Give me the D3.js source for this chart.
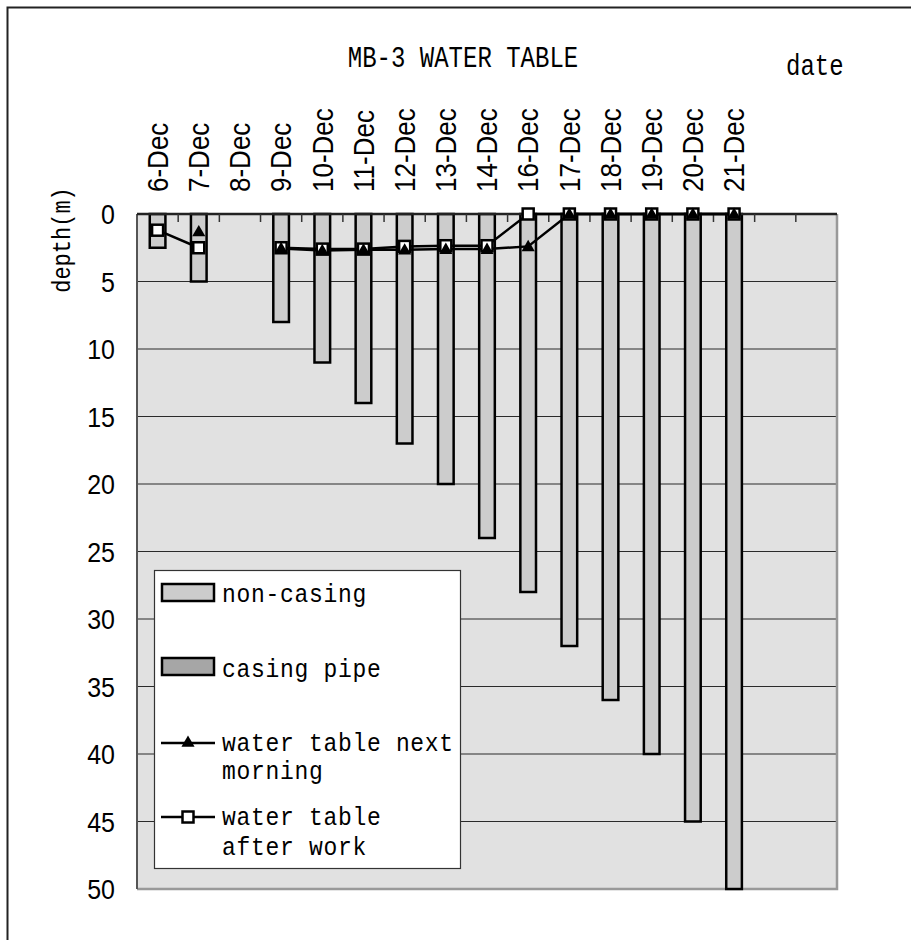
<!DOCTYPE html>
<html>
<head>
<meta charset="utf-8">
<script src="https://d3js.org/d3.v7.min.js"></script>
<style>
    body { margin: 0; background: #fff; }
    .mono { font-family: "Liberation Mono", "DejaVu Sans Mono", monospace; }
    .sans { font-family: "Liberation Sans", Arial, sans-serif; }
</style>
</head>
<body>
<div id="chart"></div>
<script>
// Dates on the x axis (two empty slots follow at the right end).
let dates = ["6-Dec", "7-Dec", "8-Dec", "9-Dec", "10-Dec", "11-Dec", "12-Dec",
    "13-Dec", "14-Dec", "16-Dec", "17-Dec", "18-Dec", "19-Dec", "20-Dec", "21-Dec"];
let slotCount = dates.length + 2;

// Depth of the hole without casing (m).
let nonCasing = [2.5, 5, null, 8, 11, 14, 17, 20, 24, 28, 32, 36, 40, 45, 50];
// Casing pipe depth (m).
let casing = [0, 0, null, 0, 0, 0, 0, 0, 0, 0, 0, 0, 0, 0, 0];
// Water table next morning (m).
let morning = [null, 1.3, null, 2.55, 2.7, 2.65, 2.65, 2.6, 2.6, 2.4, 0, 0, 0, 0, 0];
// Water table after work (m).
let afterWork = [1.2, 2.5, null, 2.5, 2.6, 2.6, 2.4, 2.35, 2.35, 0, 0, 0, 0, 0, 0];

let yTicks = [0, 5, 10, 15, 20, 25, 30, 35, 40, 45, 50];

let width = 911,
    height = 940,
    plot = { left: 137, top: 214, right: 837, bottom: 889 };

let svg = d3.select("#chart").append("svg")
    .attr("width", width)
    .attr("height", height);

// Outer chart border.
svg.append("rect")
    .attr("x", 7.5).attr("y", 7.5)
    .attr("width", 1000).attr("height", 1000)
    .attr("fill", "#fff")
    .attr("stroke", "#222")
    .attr("stroke-width", 2);

// Scales.
let x = d3.scaleBand()
    .domain(d3.range(slotCount))
    .range([plot.left, plot.right]);

let y = d3.scaleLinear()
    .domain([0, 50])
    .range([plot.top, plot.bottom]);

// Plot area background.
svg.append("rect")
    .attr("x", plot.left).attr("y", plot.top)
    .attr("width", plot.right - plot.left)
    .attr("height", plot.bottom - plot.top)
    .attr("fill", "#e1e1e1");

// Horizontal grid lines.
svg.append("g")
    .selectAll("line")
    .data(yTicks.slice(1, -1))
    .enter().append("line")
    .attr("x1", plot.left).attr("x2", plot.right)
    .attr("y1", d => y(d)).attr("y2", d => y(d))
    .attr("stroke", "#2a2a2a")
    .attr("stroke-width", 1.2);

// Right and bottom borders in grey, left border darker.
svg.append("path")
    .attr("d", "M" + plot.right + "," + plot.top + "V" + plot.bottom + "H" + plot.left)
    .attr("fill", "none")
    .attr("stroke", "#999")
    .attr("stroke-width", 2.5);
svg.append("line")
    .attr("x1", plot.left).attr("x2", plot.left)
    .attr("y1", plot.top).attr("y2", plot.bottom)
    .attr("stroke", "#555")
    .attr("stroke-width", 2);

// Y axis labels (slightly tall, like the original).
svg.append("g")
    .selectAll("text")
    .data(yTicks)
    .enter().append("text")
    .attr("class", "sans")
    .attr("transform", d => "translate(115," + y(d) + ") scale(1,1.12)")
    .attr("dy", "0.36em")
    .attr("text-anchor", "end")
    .style("font-size", "25px")
    .text(d => d);

// Y axis title.
svg.append("text")
    .attr("class", "mono")
    .attr("transform", "translate(70,240) rotate(-90) scale(1,1.2)")
    .attr("text-anchor", "middle")
    .style("font-size", "22px")
    .text("depth(m)");

// X axis (top) with tick labels rotated.
svg.append("g")
    .selectAll("text")
    .data(dates)
    .enter().append("text")
    .attr("class", "sans")
    .attr("transform", (d, i) => "translate(" + (x(i) + x.bandwidth() / 2) + ",192) rotate(-90) scale(1,1.1)")
    .attr("dy", "0.36em")
    .attr("text-anchor", "start")
    .style("font-size", "26px")
    .text(d => d);

// Non-casing bars.
let barWidth = x.bandwidth() * 0.38;
svg.append("g")
    .selectAll("rect")
    .data(nonCasing.map((v, i) => ({ i: i, v: v })).filter(d => d.v != null))
    .enter().append("rect")
    .attr("x", d => x(d.i) + (x.bandwidth() - barWidth) / 2)
    .attr("y", y(0))
    .attr("width", barWidth)
    .attr("height", d => y(d.v) - y(0))
    .attr("fill", "#cccccc")
    .attr("stroke", "#000")
    .attr("stroke-width", 2.5);

// Casing pipe bars (all zero here).
svg.append("g")
    .selectAll("rect")
    .data(casing.map((v, i) => ({ i: i, v: v })).filter(d => d.v))
    .enter().append("rect")
    .attr("x", d => x(d.i) + (x.bandwidth() - barWidth) / 2)
    .attr("y", y(0))
    .attr("width", barWidth)
    .attr("height", d => y(d.v) - y(0))
    .attr("fill", "#a6a6a6")
    .attr("stroke", "#000")
    .attr("stroke-width", 2.5);

// Top axis line with ticks pointing down.
svg.append("line")
    .attr("x1", plot.left).attr("x2", plot.right)
    .attr("y1", plot.top).attr("y2", plot.top)
    .attr("stroke", "#222")
    .attr("stroke-width", 2.5);
svg.append("g")
    .selectAll("line")
    .data(d3.range(1, slotCount))
    .enter().append("line")
    .attr("x1", d => x(d)).attr("x2", d => x(d))
    .attr("y1", plot.top).attr("y2", plot.top + 8)
    .attr("stroke", "#333")
    .attr("stroke-width", 1.5);

let line = d3.line()
    .defined(d => d.v != null)
    .x(d => x(d.i) + x.bandwidth() / 2)
    .y(d => y(d.v));

let tri = d3.symbol().type(d3.symbolTriangle).size(75);

// Water table after work: line + white squares.
let afterData = afterWork.map((v, i) => ({ i: i, v: v }));
svg.append("path")
    .datum(afterData)
    .attr("d", line)
    .attr("fill", "none")
    .attr("stroke", "#000")
    .attr("stroke-width", 2.5);

// Water table next morning: line + black triangles.
let morningData = morning.map((v, i) => ({ i: i, v: v }));
svg.append("path")
    .datum(morningData)
    .attr("d", line)
    .attr("fill", "none")
    .attr("stroke", "#000")
    .attr("stroke-width", 2.5);

svg.append("g")
    .selectAll("rect")
    .data(afterData.filter(d => d.v != null))
    .enter().append("rect")
    .attr("x", d => x(d.i) + x.bandwidth() / 2 - 5.5)
    .attr("y", d => y(d.v) - 5.5)
    .attr("width", 11).attr("height", 11)
    .attr("fill", "#fff")
    .attr("stroke", "#000")
    .attr("stroke-width", 2.5);

svg.append("g")
    .selectAll("path")
    .data(morningData.filter(d => d.v != null))
    .enter().append("path")
    .attr("d", tri)
    .attr("transform", d => "translate(" + (x(d.i) + x.bandwidth() / 2) + "," + (y(d.v) + 1) + ")")
    .attr("fill", "#000");

// Chart title and "date" label.
svg.append("text")
    .attr("class", "mono")
    .attr("transform", "translate(463,67) scale(1,1.2)")
    .attr("text-anchor", "middle")
    .style("font-size", "24px")
    .text("MB-3 WATER TABLE");

svg.append("text")
    .attr("class", "mono")
    .attr("transform", "translate(786,75) scale(1,1.2)")
    .style("font-size", "24px")
    .text("date");

// Legend box.
let legend = svg.append("g");
legend.append("rect")
    .attr("x", 154.5).attr("y", 570.5)
    .attr("width", 306).attr("height", 298)
    .attr("fill", "#fff")
    .attr("stroke", "#333")
    .attr("stroke-width", 1.2);

// Swatches.
legend.append("rect")
    .attr("x", 162).attr("y", 584)
    .attr("width", 52).attr("height", 17)
    .attr("fill", "#cccccc").attr("stroke", "#000").attr("stroke-width", 2.5);
legend.append("rect")
    .attr("x", 162).attr("y", 658)
    .attr("width", 52).attr("height", 17)
    .attr("fill", "#a6a6a6").attr("stroke", "#000").attr("stroke-width", 2.5);

legend.append("line")
    .attr("x1", 161).attr("x2", 215).attr("y1", 743).attr("y2", 743)
    .attr("stroke", "#000").attr("stroke-width", 2.5);
legend.append("path")
    .attr("d", tri)
    .attr("transform", "translate(188,743)")
    .attr("fill", "#000");

legend.append("line")
    .attr("x1", 161).attr("x2", 215).attr("y1", 817).attr("y2", 817)
    .attr("stroke", "#000").attr("stroke-width", 2.5);
legend.append("rect")
    .attr("x", 182.5).attr("y", 811.5)
    .attr("width", 11).attr("height", 11)
    .attr("fill", "#fff").attr("stroke", "#000").attr("stroke-width", 2.5);

let legendText = [
    { y: 602, t: "non-casing" },
    { y: 677, t: "casing pipe" },
    { y: 751, t: "water table next" },
    { y: 779, t: "morning" },
    { y: 825, t: "water table" },
    { y: 855, t: "after work" }
];
legend.selectAll("text.lg")
    .data(legendText)
    .enter().append("text")
    .attr("class", "mono lg")
    .attr("transform", d => "translate(222," + d.y + ") scale(1,1.1)")
    .style("font-size", "23px")
    .style("letter-spacing", "0.7px")
    .text(d => d.t);
</script>
</body>
</html>
